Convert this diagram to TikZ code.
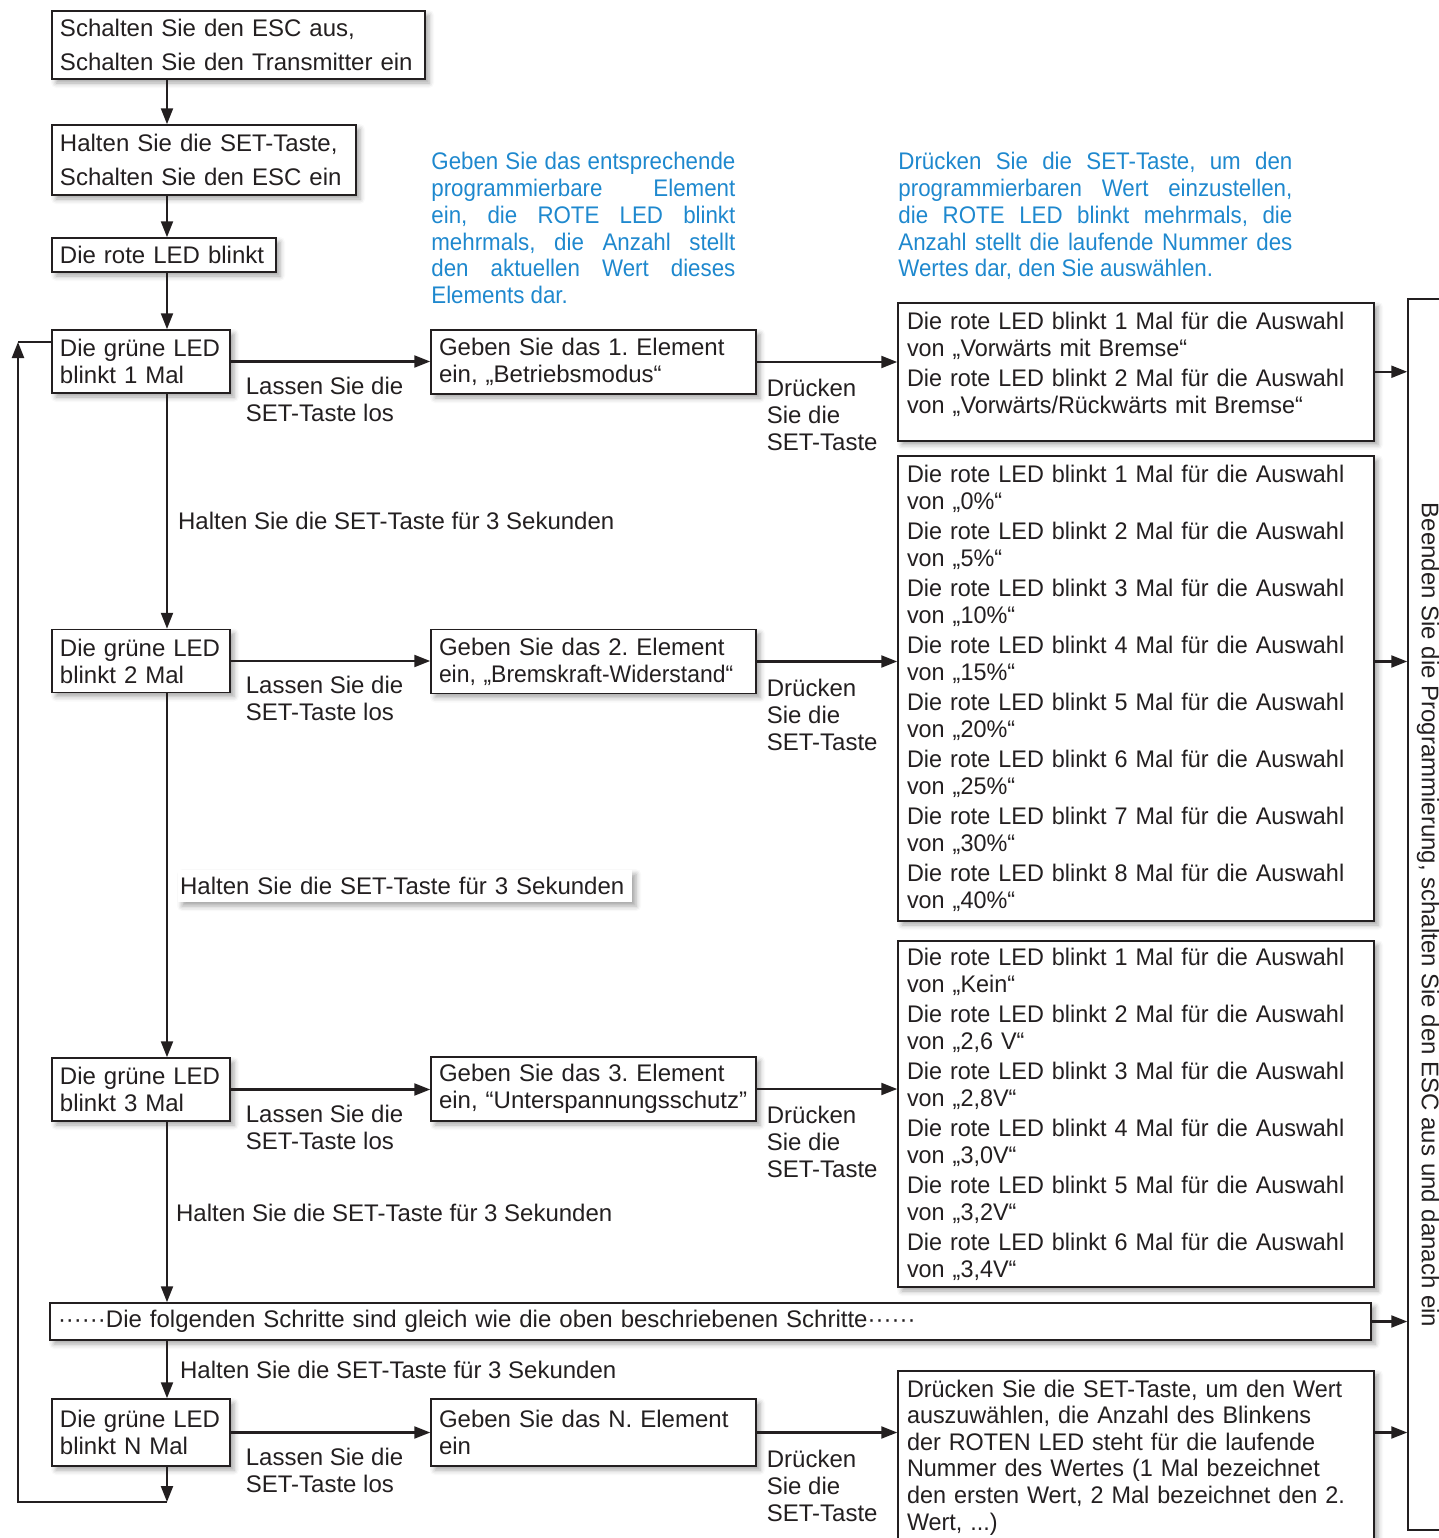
\documentclass[tikz,border=0pt]{standalone}
\usepackage{fontspec}
\setmainfont{Liberation Sans}
\newfontfamily\narrowsf[FakeStretch=0.93]{Liberation Sans}
\newfontfamily\wertsf[FakeStretch=0.975]{Liberation Sans}
\usepackage{graphicx}
\usetikzlibrary{positioning,arrows.meta,shadows.blur}
\definecolor{ink}{RGB}{35,31,32}
\definecolor{hintblue}{RGB}{30,136,206}
\newcommand{\auswahl}[2]{Die rote LED blinkt #1 Mal für die Auswahl\\von „#2“}
\frenchspacing

\begin{document}
\begin{tikzpicture}[x=0.5pt, y=-0.5pt,
  box/.style={draw=ink, line width=0.75pt, fill=white, text=ink, align=left,
    inner xsep=4pt, inner ysep=2pt, font=\fontsize{12}{13.5}\selectfont,
    blur shadow={shadow xshift=2pt, shadow yshift=-2pt, shadow blur radius=2.5pt, shadow opacity=35}},
  gbox/.style={box, minimum width=89pt, text width=81pt, minimum height=31.5pt},
  ebox/.style={box, minimum width=162.5pt, text width=154.5pt, minimum height=32pt},
  wertbox/.style={box, minimum width=238pt, text width=229pt, inner xsep=4.5pt, font=\wertsf\fontsize{12}{13.5}\selectfont},
  lbl/.style={text=ink, align=left, inner sep=2pt, font=\fontsize{12}{13.5}\selectfont},
  lassen/.style={lbl, anchor=north west, xshift=5pt, yshift=-5pt},
  druck/.style={lbl, anchor=north west, xshift=2.5pt, yshift=-6pt},
  hint/.style={text=hintblue, align=justify, inner sep=0pt, anchor=north west,
    font=\narrowsf\fontsize{12}{13.4}\selectfont, execute at begin node={\hyphenpenalty=10000\relax}},
  arr/.style={draw=ink, line width=1.1pt, -{Triangle[length=8pt, width=6pt]}},
  line/.style={draw=ink, line width=1.1pt}
]
\useasboundingbox (0,0) rectangle (1439,1538);

% start
\node[box, minimum width=186.5pt, text width=178.5pt, minimum height=34pt, font=\fontsize{12}{17}\selectfont] (off) at (238.5,45) {Schalten Sie den ESC aus,\\Schalten Sie den Transmitter ein};
\node[box, minimum width=152pt, text width=144pt, minimum height=35pt, font=\fontsize{12}{17}\selectfont] (hold) at (204,160) {Halten Sie die SET-Taste,\\Schalten Sie den ESC ein};
\node[box, minimum width=112pt, text width=104pt, minimum height=17pt] (red) at (164,255) {Die rote LED blinkt};

% blue hints
\node[hint, text width=152pt] (hintElem) at (431,152) {Geben Sie das entsprechende\linebreak programmierbare Element\linebreak ein, die ROTE LED blinkt\linebreak mehrmals, die Anzahl stellt\linebreak den aktuellen Wert dieses\linebreak Elements dar.};
\node[hint, text width=197pt] (hintWert) at (898,152) {Drücken Sie die SET-Taste, um den\linebreak programmierbaren Wert einzustellen,\linebreak die ROTE LED blinkt mehrmals, die\linebreak Anzahl stellt die laufende Nummer des\linebreak Wertes dar, den Sie auswählen.};

% green LED steps
\node[gbox] (g1) at (141,361.5) {Die grüne LED\\blinkt 1 Mal};
\node[gbox] (g2) at (141,661) {Die grüne LED\\blinkt 2 Mal};
\node[gbox] (g3) at (141,1089.5) {Die grüne LED\\blinkt 3 Mal};
\node[gbox, minimum height=33.5pt] (gn) at (141,1432.5) {Die grüne LED\\blinkt N Mal};

% elements
\node[ebox] (e1) at (593.5,362) {Geben Sie das 1. Element\\ein, „Betriebsmodus“};
\node[ebox] (e2) at (593.5,661.5) {Geben Sie das 2. Element\\\scalebox{0.955}[1]{ein, „Bremskraft-Widerstand“}};
\node[ebox] (e3) at (593.5,1089) {Geben Sie das 3. Element\\ein, “Unterspannungsschutz”};
\node[ebox, minimum height=33.5pt] (en) at (593.5,1432.5) {Geben Sie das N. Element\\ein};

% values
\node[wertbox, anchor=north, inner ysep=4.5pt, text height=9pt, text depth=51pt] (w1) at (1136,302)
  {\auswahl{1}{Vorwärts mit Bremse}\\[1.5pt]\auswahl{2}{Vorwärts/Rückwärts mit Bremse}};
\node[wertbox, minimum height=232.5pt] (w2) at (1136,688.5)
  {\auswahl{1}{0\%}\\[1.5pt]\auswahl{2}{5\%}\\[1.5pt]\auswahl{3}{10\%}\\[1.5pt]\auswahl{4}{15\%}\\[1.5pt]%
   \auswahl{5}{20\%}\\[1.5pt]\auswahl{6}{25\%}\\[1.5pt]\auswahl{7}{30\%}\\[1.5pt]\auswahl{8}{40\%}};
\node[wertbox, minimum height=173pt] (w3) at (1136,1114)
  {\auswahl{1}{Kein}\\[1.5pt]\auswahl{2}{2,6 V}\\[1.5pt]\auswahl{3}{2,8V}\\[1.5pt]\auswahl{4}{3,0V}\\[1.5pt]%
   \auswahl{5}{3,2V}\\[1.5pt]\auswahl{6}{3,4V}};
\node[wertbox, anchor=north, inner ysep=4.5pt, font=\wertsf\fontsize{12}{13.3}\selectfont] (wn) at (1136,1370)
  {Drücken Sie die SET-Taste, um den Wert\\auszuwählen, die Anzahl des Blinkens\\der ROTEN LED steht für die laufende\\Nummer des Wertes (1 Mal bezeichnet\\den ersten Wert, 2 Mal bezeichnet den 2.\\Wert, ...)};

\node[box, minimum width=660.5pt, text width=652.5pt, minimum height=18.5pt] (same) at (710.5,1321.5)
  {······Die folgenden Schritte sind gleich wie die oben beschriebenen Schritte······};

% end
\node[draw=ink, line width=0.75pt, fill=white, minimum width=31pt, minimum height=615.5pt] (finish) at (1439,914.5) {};
\node[lbl, rotate=-90] (finishtxt) at (1428,915) {Beenden Sie die Programmierung, schalten Sie den ESC aus und danach ein};

% main column
\coordinate (col) at (167,0);
\draw[arr] (off.south -| col) -- (hold.north -| col);
\draw[arr] (hold.south -| col) -- (red.north -| col);
\draw[arr] (red.south -| col) -- (g1.north -| col);
\draw[arr] (g1.south -| col) -- node[lbl, right, pos=0.54, xshift=3pt] (hold1) {Halten Sie die SET-Taste für 3 Sekunden} (g2.north -| col);
\draw[arr] (g2.south -| col) -- node[lbl, right, pos=0.53, xshift=5pt, fill=white, inner sep=1pt, text width=225pt, minimum height=16pt,
  blur shadow={shadow xshift=2pt, shadow yshift=-2pt, shadow blur radius=2.5pt, shadow opacity=35}] (hold2) {Halten Sie die SET-Taste für 3 Sekunden} (g3.north -| col);
\draw[arr] (g3.south -| col) -- node[lbl, right, pos=0.505, xshift=2pt] (hold3) {Halten Sie die SET-Taste für 3 Sekunden} (same.north -| col);
\draw[arr] (same.south -| col) -- node[lbl, right, xshift=4pt] (hold4) {Halten Sie die SET-Taste für 3 Sekunden} (gn.north -| col);

% release / press
\draw[arr] (g1.east) -- node[lassen, pos=0] (los1) {Lassen Sie die\\SET-Taste los} (g1.east -| e1.west);
\draw[arr] (g2.east) -- node[lassen, pos=0] (los2) {Lassen Sie die\\SET-Taste los} (g2.east -| e2.west);
\draw[arr] (g3.east) -- node[lassen, pos=0] (los3) {Lassen Sie die\\SET-Taste los} (g3.east -| e3.west);
\draw[arr] (gn.east) -- node[lassen, pos=0] (losn) {Lassen Sie die\\SET-Taste los} (gn.east -| en.west);
\draw[arr] (e1.east) -- node[druck, pos=0] (push1) {Drücken\\Sie die\\SET-Taste} (e1.east -| w1.west);
\draw[arr] (e2.east) -- node[druck, pos=0] (push2) {Drücken\\Sie die\\SET-Taste} (e2.east -| w2.west);
\draw[arr] (e3.east) -- node[druck, pos=0] (push3) {Drücken\\Sie die\\SET-Taste} (e3.east -| w3.west);
\draw[arr] (en.east) -- node[druck, pos=0] (pushn) {Drücken\\Sie die\\SET-Taste} (en.east -| wn.west);

% to the end box
\draw[arr] (w1.east) -- (w1.east -| finish.west);
\draw[arr] (w2.east |- e2.east) -- (finish.west |- e2.east);
\draw[arr] (same.east) -- (same.east -| finish.west);
\draw[arr] (wn.east |- en.east) -- (finish.west |- en.east);

% loop back
\coordinate (loopbot) at (167,1502);
\coordinate (loopup) at (18,342);
\draw[arr] (gn.south -| col) -- (loopbot);
\draw[arr] (loopbot) -| (loopup);
\draw[line] (loopup) -- (loopup -| g1.west);
\end{tikzpicture}
\end{document}
